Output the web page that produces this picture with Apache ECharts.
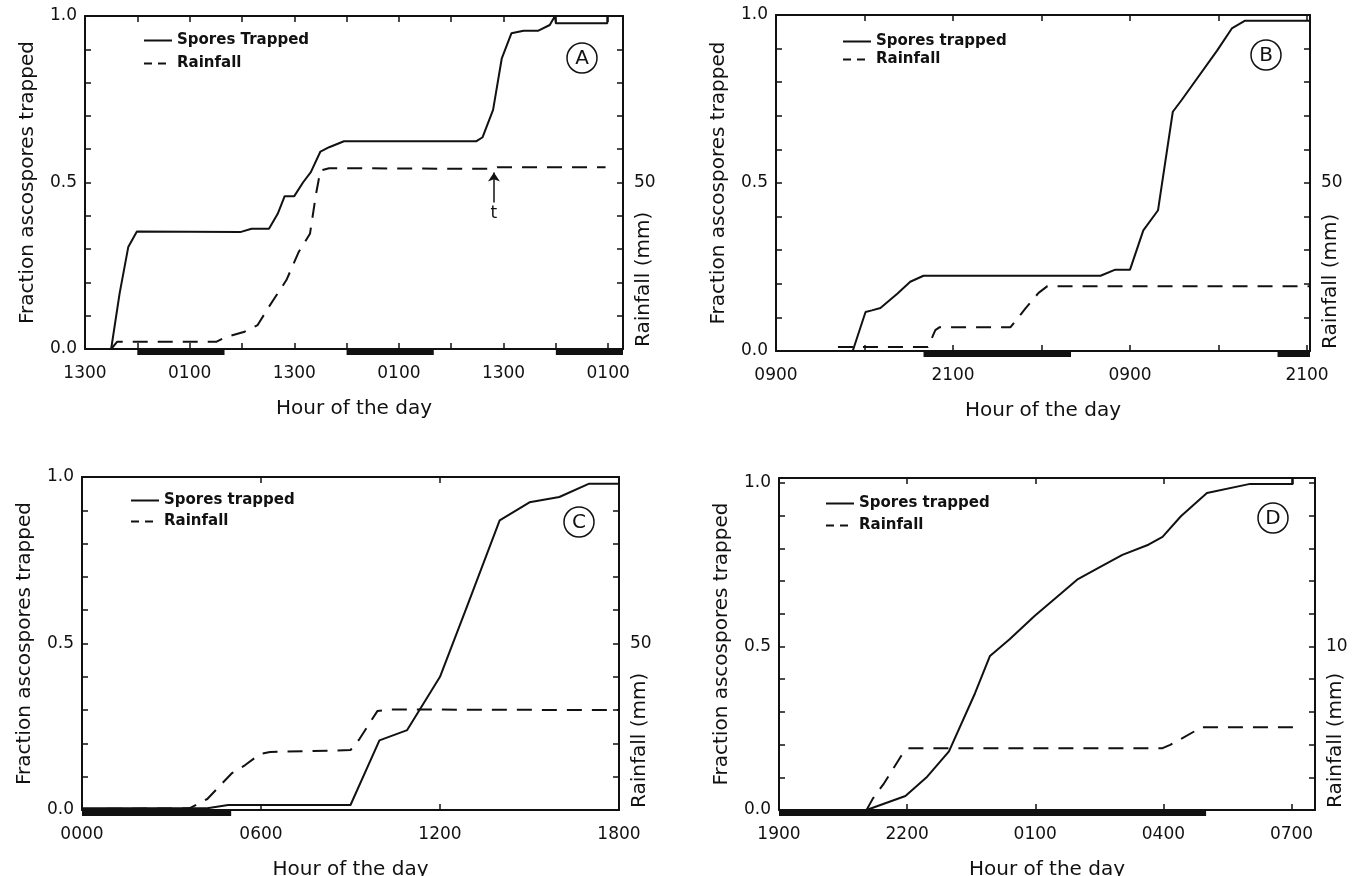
<!DOCTYPE html>
<html>
<head>
<meta charset="utf-8">
<script src="https://cdn.jsdelivr.net/npm/echarts@6/dist/echarts.min.js"></script>
<style>
  html, body { margin: 0; padding: 0; background: #fff; }
  #chart { width: 1360px; height: 876px; }
</style>
</head>
<body>
<div id="chart"></div>
<script>
// Panel A: hours after 1300
const aSporeHours = [3.0, 3.97, 4.96, 5.95, 17.8, 19.1, 21.1, 22.1, 22.9, 24.0, 25.0, 25.9, 27.0, 28.0, 29.7, 44.9, 45.6, 46.8, 47.8, 48.9, 50.3, 52.0, 53.3, 53.9, 54.0, 59.9, 59.9]
const aSporeFrac = [0, 0.167, 0.306, 0.353, 0.351, 0.361, 0.361, 0.406, 0.459, 0.459, 0.5, 0.531, 0.593, 0.606, 0.624, 0.624, 0.636, 0.718, 0.873, 0.948, 0.956, 0.956, 0.973, 1.0, 0.978, 0.978, 1.0]
const aRainHours = [3.0, 3.7, 5.2, 15.1, 16.1, 18.3, 19.8, 21.1, 23.1, 24.5, 25.8, 26.5, 27.0, 28.0, 46.4, 47.3, 59.7]
const aRainMm = [0, 2.2, 2.2, 2.2, 3.5, 5.2, 7.2, 12.7, 20.7, 29.1, 34.6, 46.6, 53.6, 54.3, 54.1, 54.6, 54.6]
const aNight = [[6, 16], [30, 40], [54, 61.7]]

// Panel B: hours after 0900
const bSporeHours = [5.2, 6.07, 6.5, 7.08, 8.24, 9.1, 10.0, 22.0, 23.0, 24.0, 24.9, 25.9, 26.0, 26.9, 27.5, 29.9, 30.9, 31.8, 36.2]
const bSporeFrac = [0, 0.116, 0.121, 0.128, 0.171, 0.206, 0.224, 0.224, 0.242, 0.242, 0.359, 0.419, 0.449, 0.712, 0.747, 0.894, 0.96, 0.983, 0.983]
const bRainHours = [4.2, 10.3, 10.8, 11.1, 15.9, 16.9, 17.8, 18.4, 36.2]
const bRainMm = [1.2, 1.2, 6.2, 7.1, 7.1, 12.6, 17.3, 19.3, 19.3]
const bNight = [[10, 20], [34, 36.2]]

// Panel C: hours after 0000
const cSporeHours = [0, 4.2, 4.9, 9.0, 9.97, 10.9, 12.0, 12.9, 14.0, 15.0, 16.0, 17.0, 18.0]
const cSporeFrac = [0.005, 0.005, 0.015, 0.015, 0.209, 0.24, 0.4, 0.61, 0.87, 0.924, 0.94, 0.98, 0.98]
const cRainHours = [0, 3.6, 4.2, 5.03, 5.47, 5.97, 6.3, 9.0, 9.3, 9.9, 10.3, 18.0]
const cRainMm = [0.3, 0.5, 3.3, 11.1, 13.5, 16.8, 17.4, 18.0, 21.3, 29.7, 30.2, 30.0]
const cNight = [[0, 5]]

// Panel D: hours after 1900
const dSporeHours = [2.05, 2.96, 3.47, 3.98, 4.59, 4.94, 5.4, 5.99, 6.52, 7.0, 7.48, 8.04, 8.65, 8.98, 9.41, 10.02, 11.03, 12.03, 12.03]
const dSporeFrac = [0, 0.043, 0.102, 0.179, 0.357, 0.471, 0.522, 0.594, 0.653, 0.706, 0.74, 0.78, 0.811, 0.835, 0.898, 0.969, 0.997, 0.997, 1.015]
const dRainHours = [2.05, 2.2, 2.46, 2.86, 3.02, 8.98, 9.16, 9.72, 9.87, 12.05]
const dRainMm = [0, 0.71, 1.63, 3.3, 3.78, 3.78, 3.98, 4.8, 5.06, 5.06]
const dNight = [[0, 10]]

const FONT = 'DejaVu Sans'
const INK = '#111'

const zip = (xs, ys) => xs.map((x, i) => [x, ys[i]])

function clockLabel(start, step) {
  return v => {
    if (Math.abs(v / step - Math.round(v / step)) > 1e-6) return ''
    const h = (start + Math.round(v)) % 24
    return String(h).padStart(2, '0') + '00'
  }
}

const panels = [
  {
    grid: { left: 85, top: 16, width: 538, height: 333 },
    start: 13, xMax: 61.7, tick: 6, labelStep: 12,
    yMax: 1, rainMax: 100, rainTick: 10, rainLabel: 50,
    spores: zip(aSporeHours, aSporeFrac), rain: zip(aRainHours, aRainMm), night: aNight,
    sporeName: 'Spores Trapped', legend: { left: 143, top: 33, gap: 8 },
    letter: 'A', letterAt: [582, 58]
  },
  {
    grid: { left: 776, top: 15, width: 534, height: 336 },
    start: 9, xMax: 36.2, tick: 6, labelStep: 12,
    yMax: 1, rainMax: 100, rainTick: 10, rainLabel: 50,
    spores: zip(bSporeHours, bSporeFrac), rain: zip(bRainHours, bRainMm), night: bNight,
    sporeName: 'Spores trapped', legend: { left: 842, top: 34, gap: 3 },
    letter: 'B', letterAt: [1266, 55]
  },
  {
    grid: { left: 82, top: 477, width: 537, height: 333 },
    start: 0, xMax: 18, tick: 6, labelStep: 6,
    yMax: 1, rainMax: 100, rainTick: 10, rainLabel: 50,
    spores: zip(cSporeHours, cSporeFrac), rain: zip(cRainHours, cRainMm), night: cNight,
    sporeName: 'Spores trapped', legend: { left: 130, top: 493, gap: 6 },
    letter: 'C', letterAt: [579, 522]
  },
  {
    grid: { left: 779, top: 478, width: 536, height: 332 },
    start: 19, xMax: 12.55, tick: 3, labelStep: 3,
    yMax: 1.015, rainMax: 20.3, rainTick: 2, rainLabel: 10,
    spores: zip(dSporeHours, dSporeFrac), rain: zip(dRainHours, dRainMm), night: dNight,
    sporeName: 'Spores trapped', legend: { left: 825, top: 496, gap: 7 },
    letter: 'D', letterAt: [1273, 518]
  }
]

const axisLine = { onZero: false, lineStyle: { color: INK, width: 2 } }
const axisTick = { inside: true, length: 6, lineStyle: { color: INK, width: 1.5 } }
const tickFont = { fontFamily: FONT, fontSize: 17, color: INK }

const grid = [], xAxis = [], yAxis = [], series = [], legend = [], graphic = []

function nightItem(params, api) {
  const a = api.coord([api.value(0), 0])
  const b = api.coord([api.value(1), 0])
  return {
    type: 'rect',
    shape: { x: a[0], y: a[1] - 1, width: b[0] - a[0], height: 7 },
    style: { fill: INK }
  }
}

panels.forEach((p, i) => {
  grid.push(Object.assign({ containLabel: false, outerBoundsMode: 'none' }, p.grid))
  const xBase = { type: 'value', gridIndex: i, min: 0, max: p.xMax, interval: p.tick,
    splitLine: { show: false }, axisLine, axisTick }
  xAxis.push(Object.assign({}, xBase, {
    position: 'bottom',
    axisLabel: Object.assign({ margin: 16, formatter: clockLabel(p.start, p.labelStep) }, tickFont),
    name: 'Hour of the day', nameLocation: 'middle', nameGap: 50,
    nameTextStyle: { fontFamily: FONT, fontSize: 20, color: INK }
  }))
  xAxis.push(Object.assign({}, xBase, { position: 'top', axisLabel: { show: false } }))
  yAxis.push({
    type: 'value', gridIndex: i, position: 'left', min: 0, max: p.yMax, interval: 0.1,
    splitLine: { show: false }, axisLine, axisTick,
    axisLabel: Object.assign({ margin: 8, formatter: v => {
      const k = v * 2
      return (Math.abs(k - Math.round(k)) < 1e-6 && v <= 1.0001) ? v.toFixed(1) : ''
    } }, tickFont),
    name: 'Fraction ascospores trapped', nameLocation: 'middle', nameGap: 47, nameRotate: 90,
    nameTextStyle: { fontFamily: FONT, fontSize: 20, color: INK }
  })
  yAxis.push({
    type: 'value', gridIndex: i, position: 'right', min: 0, max: p.rainMax, interval: p.rainTick,
    splitLine: { show: false }, axisLine, axisTick,
    axisLabel: Object.assign({ margin: 11, formatter: v => Math.abs(v - p.rainLabel) < 1e-6 ? String(p.rainLabel) : '' }, tickFont)
  })

  series.push({
    type: 'custom', name: 'night' + i, xAxisIndex: 2 * i, yAxisIndex: 2 * i,
    renderItem: nightItem, encode: { x: [0, 1] }, clip: false, silent: true, z: 1,
    data: p.night
  })
  series.push({
    type: 'line', name: p.sporeName, xAxisIndex: 2 * i, yAxisIndex: 2 * i,
    symbol: 'none', lineStyle: { color: INK, width: 2 }, itemStyle: { color: INK },
    data: p.spores, z: 3
  })
  const rain = {
    type: 'line', name: 'Rainfall', xAxisIndex: 2 * i, yAxisIndex: 2 * i + 1,
    symbol: 'none', lineStyle: { color: INK, width: 2, type: [15, 10] }, itemStyle: { color: INK },
    data: p.rain, z: 2
  }
  if (p.letter === 'A') {
    rain.markLine = {
      silent: true, symbol: ['none', 'arrow'], symbolSize: 9,
      lineStyle: { type: 'solid', color: INK, width: 1.5 },
      label: { show: true, position: 'start', formatter: 't', distance: 3,
        fontFamily: FONT, fontSize: 17, color: INK },
      data: [[{ coord: [46.9, 44] }, { coord: [46.9, 53] }]]
    }
  }
  series.push(rain)

  legend.push({
    orient: 'vertical', left: p.legend.left, top: p.legend.top, padding: 0,
    itemWidth: 28, itemHeight: 14, itemGap: p.legend.gap, selectedMode: false,
    itemStyle: { opacity: 0 },
    textStyle: { fontFamily: FONT, fontSize: 15, fontWeight: 'bold', color: INK },
    data: [p.sporeName, { name: 'Rainfall', lineStyle: { type: [8, 6] } }]
  })

  graphic.push({
    type: 'circle', shape: { cx: p.letterAt[0], cy: p.letterAt[1], r: 15 },
    style: { fill: 'none', stroke: INK, lineWidth: 1.5 }
  })
  graphic.push({
    type: 'text', x: p.letterAt[0], y: p.letterAt[1] + 1,
    style: { text: p.letter, font: '20px "DejaVu Sans"', fill: INK, align: 'center', verticalAlign: 'middle' }
  })
  graphic.push({
    type: 'text', x: p.grid.left + p.grid.width + 21, y: p.grid.top + p.grid.height - 2,
    rotation: Math.PI / 2,
    style: { text: 'Rainfall (mm)', font: '20px "DejaVu Sans"', fill: INK, align: 'left', verticalAlign: 'middle' }
  })
})

const chart = echarts.init(document.getElementById('chart'), null, { renderer: 'canvas' })
chart.setOption({
  backgroundColor: '#fff',
  animation: false,
  textStyle: { fontFamily: FONT },
  grid, xAxis, yAxis, series, legend, graphic
})
</script>
</body>
</html>
